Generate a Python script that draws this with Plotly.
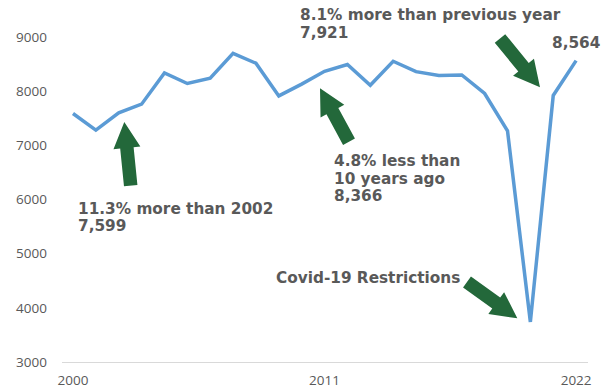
import math
import plotly.graph_objects as go

# Annual totals
years = list(range(2000, 2023))
values = [7588, 7280, 7599, 7760, 8336, 8141, 8239, 8699, 8515, 7912, 8130,
          8366, 8491, 8110, 8552, 8360, 8290, 8300, 7957, 7268, 3740, 7921, 8564]

y_ticks = [3000, 4000, 5000, 6000, 7000, 8000, 9000]
x_ticks = [2000, 2011, 2022]

W, H = 608, 392
M_L, M_R, M_T, M_B = 62, 20, 37, 30
PW, PH = W - M_L - M_R, H - M_T - M_B

TEXT_COLOR = "#595959"
LINE_COLOR = "#5B9BD5"
ARROW_COLOR = "#23683A"
NOTE_FONT = dict(family="DejaVu Sans", size=15.3, color=TEXT_COLOR)


def to_paper(px, py):
    return (px - M_L) / PW, (M_T + PH - py) / PH


def arrow_path(tail, tip, shaft=13.5, head_w=27, head_len=26):
    """Block arrow polygon from tail to tip (pixel space) as an SVG path in paper units."""
    dx, dy = tip[0] - tail[0], tip[1] - tail[1]
    L = math.hypot(dx, dy)
    ux, uy = dx / L, dy / L
    nx, ny = -uy, ux
    bx, by = tip[0] - ux * head_len, tip[1] - uy * head_len
    pts = [
        (tail[0] + nx * shaft / 2, tail[1] + ny * shaft / 2),
        (bx + nx * shaft / 2, by + ny * shaft / 2),
        (bx + nx * head_w / 2, by + ny * head_w / 2),
        tip,
        (bx - nx * head_w / 2, by - ny * head_w / 2),
        (bx - nx * shaft / 2, by - ny * shaft / 2),
        (tail[0] - nx * shaft / 2, tail[1] - ny * shaft / 2),
    ]
    pp = [to_paper(x, y) for x, y in pts]
    return "M " + " L ".join(f"{x:.5f},{y:.5f}" for x, y in pp) + " Z"


arrows = [
    ((130.7, 185.7), (124.3, 122.0)),
    ((349.0, 141.7), (320.0, 88.3)),
    ((500.0, 38.5), (540.0, 87.3)),
    ((467.0, 282.0), (517.3, 318.3)),
]

notes = [
    ("8.1% more than previous year", 299.3, 15.0),
    ("7,921", 299.3, 32.5),
    ("8,564", 550.7, 42.5),
    ("4.8% less than", 333.3, 161.0),
    ("10 years ago", 333.3, 178.5),
    ("8,366", 333.3, 196.0),
    ("11.3% more than 2002", 77.3, 209.0),
    ("7,599", 77.3, 226.0),
    ("Covid-19 Restrictions", 275.0, 278.0),
]

fig = go.Figure()
fig.add_trace(go.Scatter(
    x=years, y=values, mode="lines",
    line=dict(color=LINE_COLOR, width=3.5),
    hoverinfo="x+y",
))

for tail, tip in arrows:
    fig.add_shape(type="path", xref="paper", yref="paper",
                  path=arrow_path(tail, tip),
                  fillcolor=ARROW_COLOR, line=dict(width=0))

for text, px, py in notes:
    xp, yp = to_paper(px, py)
    fig.add_annotation(text=f"<b>{text}</b>", xref="paper", yref="paper",
                       x=xp, y=yp, xanchor="left", yanchor="middle",
                       showarrow=False, borderpad=0, font=NOTE_FONT)

fig.update_layout(
    width=W, height=H,
    margin=dict(l=M_L, r=M_R, t=M_T, b=M_B, autoexpand=False),
    paper_bgcolor="white", plot_bgcolor="white",
    showlegend=False,
    font=dict(family="Open Sans", size=13.5, color=TEXT_COLOR),
)
fig.update_xaxes(
    range=[1999.52, 2022.52], tickvals=x_ticks,
    showgrid=False, zeroline=False, automargin=False,
    showline=True, linecolor="#D9D9D9", linewidth=1,
    ticks="", ticklabelstandoff=6,
)
fig.update_yaxes(
    range=[3000, 9000], tickvals=y_ticks,
    showgrid=False, zeroline=False, showline=False, automargin=False,
    ticks="", ticklabelstandoff=14,
)

fig.write_html("out.html")
